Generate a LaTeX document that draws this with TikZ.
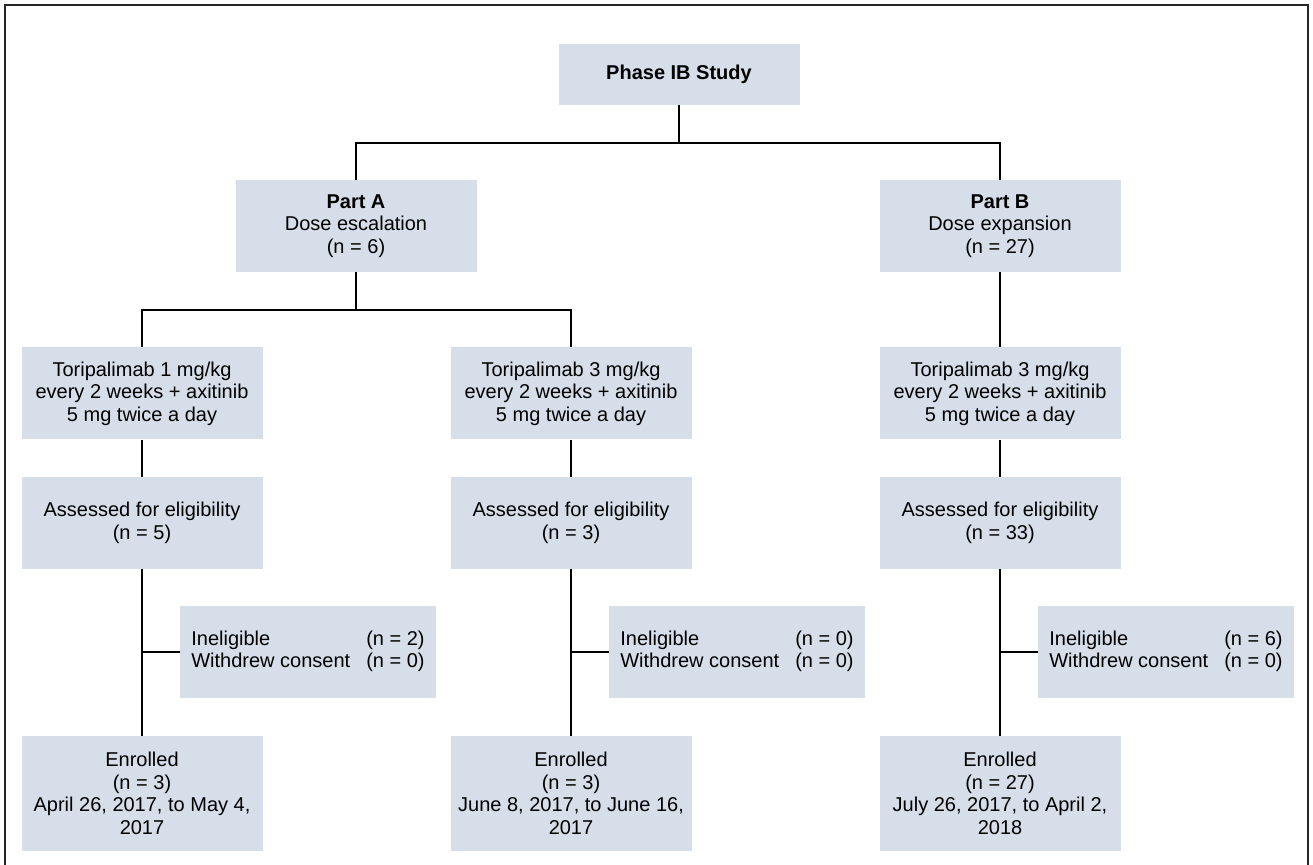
\documentclass[tikz,border=0pt]{standalone}
\usepackage{fontspec}
\setmainfont{Liberation Sans}
\definecolor{boxfill}{RGB}{213,222,233}
\tikzset{
  box/.style={fill=boxfill, minimum width=120.5pt, minimum height=46pt, align=center, inner sep=2pt},
  exclbox/.style={box, minimum width=128pt},
  line/.style={line width=1.25pt}
}
\begin{document}
\begin{tikzpicture}[x=0.5pt, y=-0.5pt, every node/.style={font=\fontsize{10}{11.3}\selectfont}]
          \useasboundingbox (0,0) rectangle (1313,865);
          \draw [line width=0.7pt, black!85] (5,5) rectangle (1308,900);
          % top
          \node [box, minimum height=30.5pt] (phase) at (679,74.5) {\textbf{Phase IB Study}};
          \node [box] (partA) at (356,226) {\textbf{Part A}\\Dose escalation\\(n = 6)};
          \node [box] (partB) at (1000,226) {\textbf{Part B}\\Dose expansion\\(n = 27)};
          \coordinate (s1) at (679,143);
          \coordinate (s2) at (356,310);
          % arms
          \node [box] (toriA) at (142,393.5) {Toripalimab 1 mg/kg\\every 2 weeks + axitinib\\5 mg twice a day};
          \node [box] (toriB) at (571,393.5) {Toripalimab 3 mg/kg\\every 2 weeks + axitinib\\5 mg twice a day};
          \node [box] (toriC) at (1000,393.5) {Toripalimab 3 mg/kg\\every 2 weeks + axitinib\\5 mg twice a day};
          \node [box] (assA) at (142,523) {Assessed for eligibility\\(n = 5)};
          \node [box] (assB) at (571,523) {Assessed for eligibility\\(n = 3)};
          \node [box] (assC) at (1000,523) {Assessed for eligibility\\(n = 33)};
          \node [exclbox] (exA) at (308,652) {\begin{tabular}{@{}l@{\hspace{8pt}}l@{}}Ineligible & (n = 2)\\Withdrew consent & (n = 0)\end{tabular}};
          \node [exclbox] (exB) at (737,652) {\begin{tabular}{@{}l@{\hspace{8pt}}l@{}}Ineligible & (n = 0)\\Withdrew consent & (n = 0)\end{tabular}};
          \node [exclbox] (exC) at (1166,652) {\begin{tabular}{@{}l@{\hspace{8pt}}l@{}}Ineligible & (n = 6)\\Withdrew consent & (n = 0)\end{tabular}};
          \node [box, minimum height=57.5pt] (enrA) at (142,793.5) {Enrolled\\(n = 3)\\April 26, 2017, to May 4,\\2017};
          \node [box, minimum height=57.5pt] (enrB) at (571,793.5) {Enrolled\\(n = 3)\\June 8, 2017, to June 16,\\2017};
          \node [box, minimum height=57.5pt] (enrC) at (1000,793.5) {Enrolled\\(n = 27)\\July 26, 2017, to April 2,\\2018};
          % connectors
          \draw [line] (phase) -- (s1);
          \draw [line] (partA.north) |- (s1) -| (partB.north);
          \draw [line] (partA) -- (s2);
          \draw [line] (toriA.north) |- (s2) -| (toriB.north);
          \draw [line] (partB) -- (toriC);
          \draw [line] (toriA) -- (assA);
          \draw [line] (toriB) -- (assB);
          \draw [line] (toriC) -- (assC);
          \draw [line] (assA) -- (enrA);
          \draw [line] (assB) -- (enrB);
          \draw [line] (assC) -- (enrC);
          \draw [line] (exA.west) -- (exA.west -| assA.south);
          \draw [line] (exB.west) -- (exB.west -| assB.south);
          \draw [line] (exC.west) -- (exC.west -| assC.south);
        \end{tikzpicture}
\end{document}
